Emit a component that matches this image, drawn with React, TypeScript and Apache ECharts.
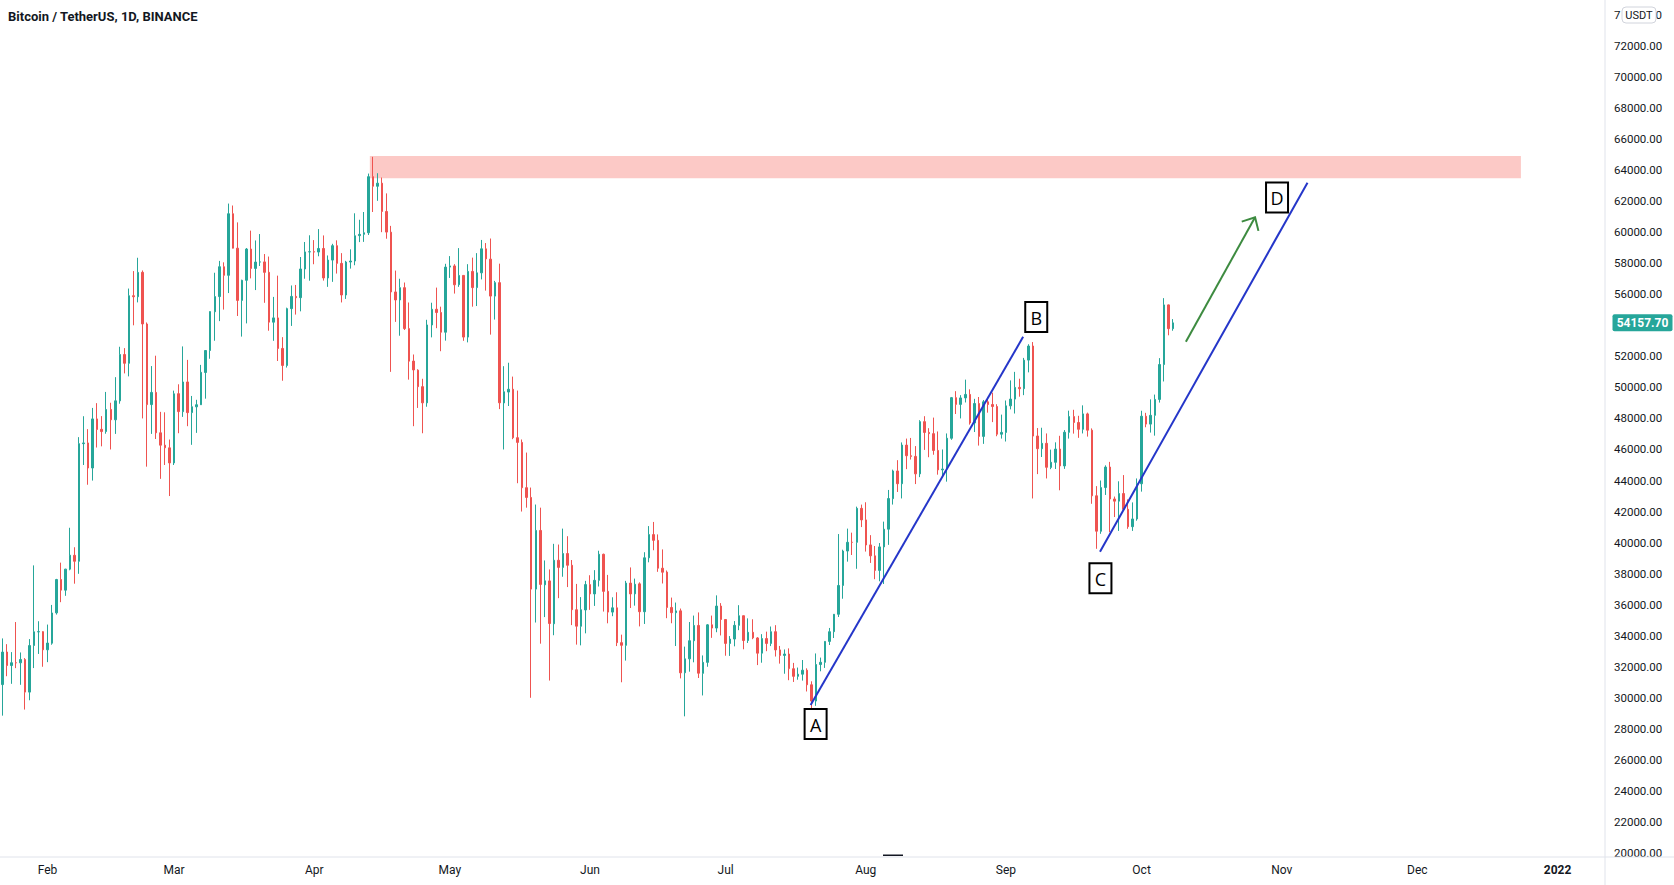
import React, { useEffect, useRef } from 'react';
import * as echarts from 'echarts';

const TITLE = 'Bitcoin / TetherUS, 1D, BINANCE';
const QUOTE = 'USDT';
const START_UTC = Date.UTC(2021, 0, 22);
const TOTAL_DAYS = 355;
const LAST_PRICE = 54157.7;
const MONTH_LABELS = ['Jan', 'Feb', 'Mar', 'Apr', 'May', 'Jun', 'Jul', 'Aug', 'Sep', 'Oct', 'Nov', 'Dec'];
const Y_MIN = 20000;
const Y_MAX = 74000;
const Y_STEP = 2000;
// the top tick label is mostly covered by the currency badge: only its edges show
const TOP_LABEL_LEFT = '7';
const TOP_LABEL_RIGHT = '0';

// daily candles: [open, close, low, high]
const jan21 = [
  [30851, 32945, 28850, 33826], [32950, 32078, 31390, 33456], [32078, 32260, 30900, 32944],
  [32260, 32254, 31910, 34881], [32254, 32467, 30837, 32921], [32465, 30366, 29241, 32557],
  [30366, 33364, 29842, 33783], [33369, 34252, 31915, 38532], [34247, 34262, 32825, 34934],
  [34262, 33092, 32000, 34289],
];
const feb21 = [
  [33093, 33527, 32297, 34718], [33517, 35466, 33418, 35984], [35472, 37619, 35362, 37663],
  [37620, 36937, 36161, 38708], [36936, 38290, 36570, 38310], [38289, 39187, 38216, 40955],
  [39181, 38796, 37352, 39700], [38795, 46375, 37989, 46794], [46374, 46420, 45000, 48142],
  [46420, 44807, 43727, 47310], [44807, 47969, 43995, 48678], [47969, 47288, 46125, 48985],
  [47298, 47153, 46202, 48150], [47156, 48577, 47014, 49707], [48580, 47912, 46000, 49010],
  [47911, 49133, 47003, 50659], [49133, 52119, 48947, 52618], [52117, 51553, 50901, 52530],
  [51552, 55906, 50710, 56368], [55907, 55841, 54000, 57494], [55842, 57408, 55477, 58352],
  [57413, 54088, 48000, 57534], [54084, 48891, 44892, 54183], [48892, 49677, 47003, 51374],
  [49677, 47073, 46674, 52041], [47074, 46277, 44107, 48424], [46277, 46108, 45000, 48395],
  [46104, 45135, 43000, 46640],
];
const mar21 = [
  [45134, 49587, 45000, 49791], [49596, 48440, 47047, 50200], [48436, 50349, 48100, 52640],
  [50350, 48374, 47500, 51773], [48375, 48751, 46300, 49448], [48746, 48882, 47070, 49200],
  [48883, 50971, 48868, 51450], [50959, 52375, 49274, 52402], [52376, 54884, 51845, 54895],
  [54874, 55851, 53005, 57387], [55851, 57773, 54269, 58150], [57773, 57221, 55013, 58058],
  [57222, 61188, 56078, 61844], [61189, 58968, 59000, 61719], [58969, 55605, 54600, 60633],
  [55606, 56901, 53272, 56938], [56901, 58913, 54123, 58982], [58913, 57665, 57023, 60100],
  [57666, 58075, 56270, 59468], [58075, 58086, 57820, 59880], [58086, 57411, 55450, 58592],
  [57413, 54204, 53650, 58430], [54202, 54478, 53000, 55830], [54477, 52508, 51700, 57200],
  [52510, 51415, 50428, 53236], [51413, 55074, 51278, 55137], [55074, 55863, 53961, 56566],
  [55863, 55777, 54691, 56600], [55782, 57628, 54900, 58400], [57628, 58730, 57000, 59368],
  [58731, 58740, 56873, 59800],
];
const apr21 = [
  [58741, 58720, 57935, 59490], [58720, 58950, 58448, 60200], [58950, 57051, 56880, 59791],
  [57051, 58202, 56478, 58500], [58202, 59130, 56800, 59251], [59130, 57991, 57333, 59475],
  [57991, 55953, 55473, 58650], [55953, 58077, 55700, 58153], [58077, 58142, 57654, 58894],
  [58142, 59770, 57870, 61218], [59778, 59860, 59360, 60800], [59861, 59964, 59376, 61300],
  [59964, 63577, 59817, 63777], [63576, 62959, 61301, 64854], [62959, 63159, 62020, 63800],
  [63158, 61334, 60000, 63520], [61334, 60006, 59580, 62500], [60001, 56150, 51000, 60406],
  [56150, 55633, 54221, 57526], [55634, 56425, 53329, 57000], [56425, 53787, 53696, 56757],
  [53788, 51690, 50500, 55470], [51696, 51125, 47500, 52120], [51110, 50047, 48676, 51167],
  [50048, 49004, 47045, 50555], [49004, 54022, 48753, 54356], [54022, 55034, 53223, 55455],
  [55034, 54824, 53814, 56429], [54824, 53555, 52331, 55200], [53555, 57750, 53013, 57963],
];
const may21 = [
  [57750, 57828, 57052, 58459], [57826, 56610, 56044, 57939], [56620, 57213, 56478, 58974],
  [57215, 53241, 53000, 57215], [53241, 57473, 52901, 57939], [57473, 56428, 55200, 58360],
  [56429, 57380, 55241, 58650], [57380, 58928, 56957, 59500], [58926, 58280, 56235, 59300],
  [58263, 55883, 53400, 59592], [55882, 56750, 54370, 56862], [56750, 49007, 48600, 57972],
  [49000, 49716, 46000, 51367], [49699, 49880, 48800, 51588], [49880, 46760, 46664, 50695],
  [46760, 46457, 43825, 49795], [46456, 43537, 42001, 46643], [43538, 42910, 42250, 45800],
  [42910, 37002, 30000, 43546], [37002, 40783, 34850, 42452], [40783, 37305, 33488, 42250],
  [37280, 37536, 35200, 38850], [37532, 34786, 31111, 38270], [34770, 38863, 34031, 39920],
  [38863, 38403, 36419, 39875], [38403, 39295, 37800, 40900], [39295, 38540, 37134, 40411],
  [38540, 35674, 34684, 38877], [35674, 34614, 33426, 37338], [34608, 35674, 33379, 36488],
  [35659, 37293, 34153, 37534],
];
const jun21 = [
  [37293, 36694, 35666, 37896], [36694, 37568, 35920, 38225], [37568, 39247, 37170, 39476],
  [39246, 36857, 35556, 39289], [36857, 35521, 34800, 37918], [35521, 35797, 35258, 36476],
  [35797, 33553, 33333, 36800], [33553, 33381, 31000, 34068], [33380, 37389, 32397, 37534],
  [37389, 36693, 35784, 38400], [36697, 37313, 35937, 37680], [37341, 35546, 34600, 37439],
  [35546, 39020, 34757, 39380], [39020, 40516, 38730, 41064], [40516, 40144, 39506, 41330],
  [40143, 38349, 38116, 40527], [38349, 38092, 37365, 39559], [38099, 35820, 35129, 38202],
  [35820, 35483, 34803, 36457], [35483, 35600, 33336, 36137], [35601, 31608, 31251, 35750],
  [31614, 32509, 28805, 33298], [32510, 33678, 31683, 34881], [33676, 34663, 32287, 35298],
  [34663, 31584, 31275, 35500], [31576, 32283, 30151, 32730], [32283, 34700, 32000, 34749],
  [34702, 34494, 33862, 35297], [34494, 35911, 34225, 36600], [35911, 35046, 34017, 36100],
];
const jul21 = [
  [35045, 33504, 32711, 35057], [33502, 33787, 32699, 33977], [33786, 34669, 33316, 34945],
  [34669, 35287, 34357, 35967], [35288, 33690, 33125, 35293], [33690, 34220, 33532, 35118],
  [34220, 33863, 33777, 35059], [33855, 32875, 32108, 33912], [32877, 33815, 32261, 34100],
  [33816, 33502, 33004, 34262], [33503, 34259, 33332, 34592], [34259, 33086, 32658, 34679],
  [33086, 32730, 32202, 33340], [32730, 32820, 31550, 33114], [32820, 31880, 31133, 33185],
  [31874, 31383, 31020, 32249], [31384, 31520, 31164, 31949], [31521, 31778, 31108, 32435],
  [31778, 30839, 30407, 31899], [30839, 29790, 29278, 31063], [29790, 32144, 29482, 32858],
  [32144, 32288, 31708, 32591], [32287, 33634, 31924, 33650], [33634, 34258, 33401, 34500],
  [34262, 35381, 33851, 35398], [35381, 37237, 35205, 40550], [37241, 39457, 36383, 39542],
  [39456, 40019, 38772, 40900], [40019, 40016, 39200, 40640], [40018, 42206, 38313, 42316],
  [42206, 41462, 41000, 42448],
];
const aug21 = [
  [41461, 39846, 39422, 42599], [39850, 39147, 38690, 40480], [39146, 38208, 37642, 39780],
  [38208, 39723, 37508, 39969], [39723, 40862, 37332, 41350], [40865, 42836, 39853, 43392],
  [42832, 44614, 42450, 44700], [44614, 43792, 43261, 45310], [43794, 46285, 42844, 46454],
  [46280, 45596, 44732, 46700], [45596, 45555, 45351, 46743], [45555, 44428, 43771, 46218],
  [44430, 47793, 44218, 47886], [47793, 47097, 45971, 48144], [47097, 47019, 45500, 47372],
  [47019, 45937, 45660, 48053], [45937, 44686, 44376, 47160], [44686, 44741, 44203, 46000],
  [44741, 46723, 43927, 47033], [46723, 49339, 46622, 49382], [49339, 48905, 48285, 49757],
  [48905, 49321, 48000, 49500], [49322, 49546, 49029, 50500], [49546, 47707, 47600, 49874],
  [47706, 48960, 47124, 49262], [48960, 46843, 46250, 49380], [46843, 49069, 46361, 49188],
  [49069, 48896, 48371, 49309], [48895, 48767, 47762, 49658], [48767, 46983, 46853, 48915],
  [46983, 47100, 46700, 48246],
];
const sep21 = [
  [47100, 48811, 46513, 49156], [48810, 49246, 48584, 50450], [49246, 49999, 48316, 51000],
  [50000, 49915, 49400, 50558], [49918, 51756, 49500, 51900], [51757, 52663, 50969, 52780],
  [52666, 46863, 42843, 52920], [46868, 46048, 44412, 47381], [46048, 46395, 45514, 47400],
  [46396, 44851, 44132, 47033], [44843, 45174, 44730, 45989], [45173, 46026, 44742, 46460],
  [46026, 44941, 43370, 46880], [44940, 47111, 44750, 47250], [47103, 48122, 46700, 48500],
  [48121, 47737, 47021, 48557], [47738, 47299, 46750, 48170], [47299, 48293, 47033, 48843],
  [48292, 47242, 46829, 48372], [47241, 43015, 42500, 47358], [43016, 40734, 39600, 43639],
  [40729, 43543, 40566, 44000], [43546, 44865, 43069, 44978], [44866, 42810, 40675, 45200],
  [42810, 42670, 41646, 42966], [42670, 43160, 40750, 43950], [43160, 42147, 42098, 44350],
  [42147, 41026, 40888, 42787], [41025, 41522, 40753, 42590], [41523, 43791, 41410, 44132],
];
const oct21 = [
  [43791, 48142, 43283, 48495], [48142, 47635, 47430, 48360], [47634, 48200, 47088, 49228],
  [48200, 49224, 46891, 49536], [49224, 51472, 49022, 51886], [51471, 55315, 50382, 55750],
  [55316, 53785, 53357, 55338], [53785, 54157.7, 53650, 54400],
];

// annotations in chart units: [bar index from first bar, price]
const resistanceZone = [[81.3, 63480], [335.9, 64910]];
const trendAB = [[178.8, 29540], [225.8, 53260]];
const trendCD = [[242.8, 39410], [288.7, 63190]];
const projection = [[261.8, 52945], [277.1, 60960]];
const waveNames = ['A', 'B', 'C', 'D'];
const wavePoints = [[179.9, 28310], [228.7, 54540], [242.9, 37700], [281.96, 62240]];

const UP = '#26a69a';
const DOWN = '#ef5350';
const TEXT = '#131722';
const BORDER = '#e0e3eb';
const W = 1674;
const H = 885;
const AXIS_X = 1605;
const AXIS_Y = 857;

function buildDates(): string[] {
  return Array.from({ length: TOTAL_DAYS }, (_, i) =>
    new Date(START_UTC + i * 86400000).toISOString().slice(0, 10)
  );
}

export default function App() {
  const ref = useRef<HTMLDivElement>(null);

  useEffect(() => {
    if (!ref.current) return;
    const chart = echarts.init(ref.current, null, { renderer: 'svg' });
    const dates = buildDates();
    const candles = [...jan21, ...feb21, ...mar21, ...apr21, ...may21, ...jun21, ...jul21, ...aug21, ...sep21, ...oct21];

    chart.setOption({
      animation: false,
      backgroundColor: '#ffffff',
      grid: { left: 0, right: W - AXIS_X, top: 14.9, bottom: 32, containLabel: false },
      xAxis: [
        {
          type: 'category',
          data: dates,
          boundaryGap: true,
          axisLine: { show: false },
          axisTick: { show: false },
          splitLine: { show: false },
          axisLabel: {
            interval: (_i: number, v: string) => v.endsWith('-01'),
            formatter: (v: string) => {
              const [y, m] = v.split('-');
              return m === '01' ? `{yr|${y}}` : MONTH_LABELS[Number(m) - 1];
            },
            margin: 11,
            fontSize: 12,
            fontFamily: 'Roboto',
            color: TEXT,
            rich: { yr: { fontSize: 12, fontFamily: 'Roboto', fontWeight: 'bold', color: TEXT } },
          },
        },
        { type: 'value', min: -0.5, max: TOTAL_DAYS - 0.5, show: false },
      ],
      yAxis: {
        type: 'value',
        position: 'right',
        min: Y_MIN,
        max: Y_MAX,
        interval: Y_STEP,
        axisLine: { show: false },
        axisTick: { show: false },
        splitLine: { show: false },
        axisLabel: {
          margin: 9,
          // labels under the last-price tag and the currency badge are hidden, as on the reference
          formatter: (v: number) =>
            v === Y_MAX || Math.abs(v - LAST_PRICE) < 1000 ? '' : v.toFixed(2),
          fontSize: 11.5,
          fontFamily: 'Roboto',
          color: TEXT,
        },
      },
      series: [
        {
          type: 'candlestick',
          data: candles,
          barWidth: 2,
          itemStyle: { color: UP, color0: DOWN, borderColor: UP, borderColor0: DOWN, borderWidth: 1 },
        },
      ],
    });

    const px = (p: number[]) => [
      chart.convertToPixel({ xAxisIndex: 1 }, p[0]) as number,
      chart.convertToPixel({ yAxisIndex: 0 }, p[1]) as number,
    ];

    const z0 = px(resistanceZone[0]);
    const z1 = px(resistanceZone[1]);
    const ab0 = px(trendAB[0]);
    const ab1 = px(trendAB[1]);
    const cd0 = px(trendCD[0]);
    const cd1 = px(trendCD[1]);
    const pr0 = px(projection[0]);
    const pr1 = px(projection[1]);

    // arrow head arms
    const dx = pr0[0] - pr1[0];
    const dy = pr0[1] - pr1[1];
    const len = Math.hypot(dx, dy);
    const ux = dx / len;
    const uy = dy / len;
    const ang = (43 * Math.PI) / 180;
    const arm = 14;
    const rot = (a: number) => [
      pr1[0] + arm * (ux * Math.cos(a) - uy * Math.sin(a)),
      pr1[1] + arm * (ux * Math.sin(a) + uy * Math.cos(a)),
    ];
    const armA = rot(ang);
    const armB = rot(-ang);

    const priceY = chart.convertToPixel({ yAxisIndex: 0 }, LAST_PRICE) as number;
    const topY = chart.convertToPixel({ yAxisIndex: 0 }, Y_MAX) as number;

    const elements: any[] = [
      {
        type: 'rect',
        z: 1,
        shape: { x: z0[0], y: z1[1], width: z1[0] - z0[0], height: z0[1] - z1[1] },
        style: { fill: '#fcc9c6' },
      },
      { type: 'line', z: 1, shape: { x1: AXIS_X, y1: 0, x2: AXIS_X, y2: H }, style: { stroke: BORDER, lineWidth: 1 } },
      { type: 'line', z: 1, shape: { x1: 0, y1: AXIS_Y, x2: W, y2: AXIS_Y }, style: { stroke: BORDER, lineWidth: 1 } },
      { type: 'rect', z: 5, shape: { x: 883, y: 854.5, width: 20, height: 1.5 }, style: { fill: TEXT } },
      {
        type: 'line', z: 20,
        shape: { x1: ab0[0], y1: ab0[1], x2: ab1[0], y2: ab1[1] },
        style: { stroke: '#2536c9', lineWidth: 2 },
      },
      {
        type: 'line', z: 20,
        shape: { x1: cd0[0], y1: cd0[1], x2: cd1[0], y2: cd1[1] },
        style: { stroke: '#2536c9', lineWidth: 2 },
      },
      {
        type: 'line', z: 20,
        shape: { x1: pr0[0], y1: pr0[1], x2: pr1[0], y2: pr1[1] },
        style: { stroke: '#3d8b40', lineWidth: 2 },
      },
      {
        type: 'polyline', z: 20,
        shape: { points: [armA, pr1, armB] },
        style: { stroke: '#3d8b40', lineWidth: 2, fill: 'none' },
      },
      {
        type: 'text', z: 20,
        style: {
          text: TITLE, x: 8, y: 16, textVerticalAlign: 'middle', textAlign: 'left',
          fontSize: 13, fontWeight: 'bold', fontFamily: 'Roboto', fill: TEXT,
        },
      },
      {
        type: 'text', z: 19,
        style: {
          text: TOP_LABEL_LEFT, x: 1614, y: topY, textVerticalAlign: 'middle', textAlign: 'left',
          fontSize: 11.5, fontFamily: 'Roboto', fill: TEXT,
        },
      },
      {
        type: 'text', z: 19,
        style: {
          text: TOP_LABEL_RIGHT, x: 1662, y: topY, textVerticalAlign: 'middle', textAlign: 'right',
          fontSize: 11.5, fontFamily: 'Roboto', fill: TEXT,
        },
      },
      {
        type: 'rect', z: 20,
        shape: { x: 1622, y: 7, width: 34, height: 16, r: 4 },
        style: { fill: '#ffffff', stroke: '#d1d4dc', lineWidth: 1 },
      },
      {
        type: 'text', z: 21,
        style: {
          text: QUOTE, x: 1639, y: 15.5, textAlign: 'center', textVerticalAlign: 'middle',
          fontSize: 11, fontFamily: 'Roboto', fill: TEXT,
        },
      },
      {
        type: 'rect', z: 20,
        shape: { x: 1612.5, y: priceY - 8.5, width: 60, height: 17, r: 2 },
        style: { fill: UP },
      },
      {
        type: 'text', z: 21,
        style: {
          text: LAST_PRICE.toFixed(2), x: 1642.5, y: priceY, textAlign: 'center', textVerticalAlign: 'middle',
          fontSize: 12, fontWeight: 'bold', fontFamily: 'Roboto', fill: '#ffffff',
        },
      },
    ];

    waveNames.forEach((name, i) => {
      const c = px(wavePoints[i]);
      elements.push({
        type: 'rect', z: 22,
        shape: { x: c[0] - 11, y: c[1] - 15, width: 22, height: 30 },
        style: { fill: '#ffffff', stroke: '#000000', lineWidth: 2 },
      });
      elements.push({
        type: 'text', z: 23,
        style: {
          text: name, x: c[0], y: c[1] + 1, textAlign: 'center', textVerticalAlign: 'middle',
          fontSize: 18, fontFamily: 'Open Sans', fill: '#000000',
        },
      });
    });

    chart.setOption({ graphic: { elements } });

    return () => chart.dispose();
  }, []);

  return <div ref={ref} style={{ position: 'absolute', left: 0, top: 0, width: W, height: H }} />;
}
